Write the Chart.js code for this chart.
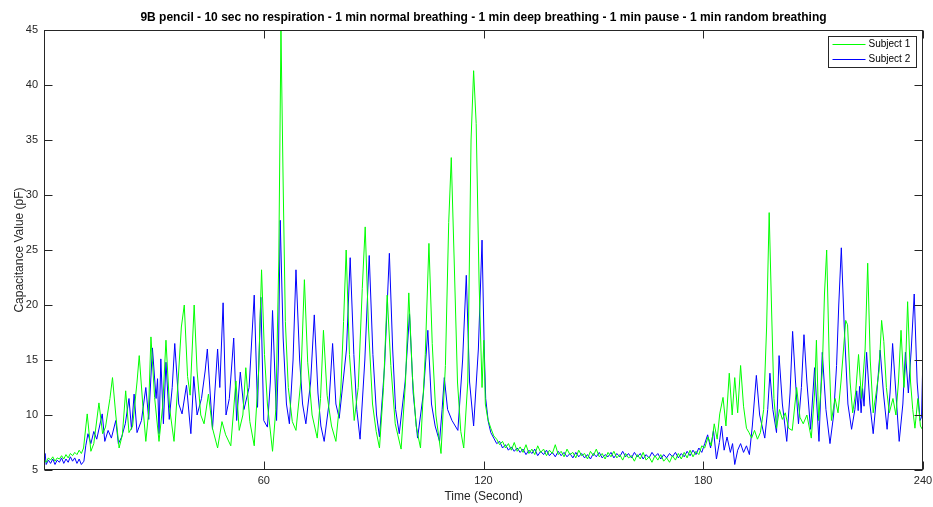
<!DOCTYPE html>
<html>
<head>
<meta charset="utf-8">
<title>9B pencil capacitance</title>
<script src="https://cdn.jsdelivr.net/npm/chart.js@4.4.1/dist/chart.umd.min.js"></script>
<style>
  html, body { margin: 0; padding: 0; background: #ffffff; }
  #chartBox { width: 933px; height: 507px; }
</style>
</head>
<body>
<div id="chartBox"><canvas id="capChart" width="933" height="507"></canvas></div>
<script>
// Chart texts
const chartTitle = '9B pencil - 10 sec no respiration - 1 min normal breathing - 1 min deep breathing - 1 min pause - 1 min random breathing';
const xAxisTitle = 'Time (Second)';
const yAxisTitle = 'Capacitance Value (pF)';
const seriesNames = ['Subject 1', 'Subject 2'];

// Axis ticks
const xTickValues = [60, 120, 180, 240];
const yTickValues = [5, 10, 15, 20, 25, 30, 35, 40, 45];

// Subject 1 readings: [time (s), capacitance (pF)]
const subject1 = [
  [0, 6.0], [0.6, 5.7], [1.2, 6.1], [1.8, 5.9], [2.4, 6.2], [3.0, 5.8], [3.6, 6.1], [4.2, 6.0], [4.8, 6.3], [5.4, 6.0],
  [6.0, 6.4], [6.6, 6.1], [7.2, 6.5], [7.8, 6.3], [8.4, 6.6], [9.0, 6.4], [9.6, 6.8], [10.2, 6.5], [10.8, 7.0],
  // normal breathing
  [11.8, 10.1], [12.8, 6.7], [13.6, 7.4], [15.0, 11.1], [16.0, 8.3], [16.8, 8.9], [18.0, 11.5], [18.7, 13.4], [19.6, 10.0],
  [20.5, 7.0], [21.4, 8.2], [22.3, 12.2], [23.2, 8.4], [24.2, 9.0], [25.4, 13.0], [26.0, 15.4], [27.0, 10.8], [27.8, 7.6],
  [28.5, 10.0], [29.2, 17.1], [30.2, 11.6], [31.4, 7.6], [32.4, 10.8], [33.3, 16.8], [34.3, 10.6], [35.5, 7.6], [36.6, 13.0],
  [37.5, 18.0], [38.3, 20.0], [39.2, 13.5], [39.9, 11.8], [41.0, 20.0], [41.8, 14.0], [42.8, 10.0], [43.7, 9.2], [44.9, 11.9],
  [46.0, 8.8], [47.4, 7.0], [48.6, 9.4], [49.6, 8.2], [51.0, 7.2], [52.4, 13.1], [53.3, 8.6], [54.3, 10.0], [55.1, 14.3],
  [56.2, 9.4], [57.4, 7.2], [58.6, 14.0], [59.4, 23.2], [60.2, 15.5], [61.0, 11.0], [62.4, 6.7], [63.3, 10.5],
  // deep breathing
  [64.1, 24.0], [64.7, 45.0], [65.3, 31.0], [65.9, 18.5], [66.7, 12.5], [67.8, 9.4], [68.8, 8.6], [70.1, 13.0], [71.1, 22.3],
  [72.0, 14.8], [73.2, 10.0], [74.6, 7.9], [75.5, 11.5], [76.3, 17.7], [77.3, 11.8], [78.5, 9.0], [79.7, 7.6], [81.0, 12.0],
  [81.8, 18.5], [82.5, 25.0], [83.4, 15.5], [84.7, 9.5], [85.8, 12.5], [86.9, 21.5], [87.7, 27.1], [88.6, 18.0], [89.7, 11.0],
  [90.7, 8.5], [91.6, 7.0], [92.7, 12.5], [93.7, 20.9], [94.7, 14.5], [95.9, 9.2], [97.5, 6.9], [98.7, 13.0], [99.6, 21.1],
  [100.6, 13.5], [101.6, 9.0], [102.8, 7.0], [104.1, 15.5], [105.1, 25.6], [106.0, 16.5], [107.0, 10.0], [108.4, 6.5],
  [109.6, 14.5], [110.5, 27.5], [111.2, 33.4], [112.0, 24.0], [112.9, 13.0], [113.8, 8.5], [114.6, 7.0], [115.7, 13.0],
  [116.6, 35.0], [117.3, 41.3], [118.0, 36.5], [118.8, 22.0], [119.6, 12.5], [120.1, 16.8], [120.5, 11.0], [121.2, 9.6],
  // pause
  [122.0, 8.8], [122.8, 8.1], [123.6, 7.8], [124.4, 7.3], [125.2, 7.6], [126.0, 7.0], [126.8, 7.4], [127.6, 6.8], [128.4, 7.5],
  [129.2, 6.7], [130.0, 7.1], [130.8, 6.6], [131.6, 7.3], [132.4, 6.5], [133.2, 6.9], [134.0, 6.4], [134.8, 7.2], [135.6, 6.6],
  [136.4, 6.9], [137.2, 6.3], [138.0, 6.8], [138.8, 6.5], [139.6, 7.3], [140.4, 6.4], [141.2, 6.7], [142.0, 6.2], [142.8, 6.9],
  [143.6, 6.4], [144.4, 6.6], [145.2, 6.1], [146.0, 6.8], [146.8, 6.3], [147.6, 6.5], [148.4, 6.0], [149.2, 6.7], [150.0, 6.3],
  [150.8, 6.9], [151.6, 6.2], [152.4, 6.5], [153.2, 6.0], [154.0, 6.6], [154.8, 6.2], [155.6, 6.7], [156.4, 6.1], [157.2, 6.4],
  [158.0, 5.9], [158.8, 6.5], [159.6, 6.1], [160.4, 6.3], [161.2, 5.8], [162.0, 6.4], [162.8, 6.0], [163.6, 6.6], [164.4, 5.9],
  [165.2, 6.2], [166.0, 5.7], [166.8, 6.3], [167.6, 5.9], [168.4, 6.4], [169.2, 5.8], [170.0, 6.1], [170.8, 5.7], [171.6, 6.3],
  [172.4, 5.9], [173.2, 6.5], [174.0, 6.0], [174.8, 6.6], [175.6, 6.1], [176.4, 6.8], [177.2, 6.2], [178.0, 6.7], [178.8, 6.4],
  [179.6, 7.2],
  // random breathing
  [180.4, 7.0], [181.3, 8.0], [182.2, 7.2], [183.0, 9.2], [183.8, 7.8], [184.5, 10.1], [185.4, 11.6], [186.2, 9.0], [187.1, 13.8],
  [187.9, 10.0], [188.6, 13.4], [189.4, 10.2], [190.2, 14.5], [191.0, 10.8], [191.8, 8.8], [192.5, 8.4], [193.2, 7.9], [194.0, 8.6],
  [194.8, 7.8], [195.6, 8.4], [196.5, 10.5], [197.3, 18.0], [198.0, 28.4], [198.7, 19.0], [199.3, 11.5], [200.0, 8.8],
  [200.8, 10.5], [201.6, 9.6], [202.4, 10.2], [203.3, 8.8], [204.3, 8.6], [205.5, 12.5], [206.4, 9.8], [207.3, 9.2], [208.3, 10.0],
  [209.5, 7.9], [210.4, 12.0], [210.9, 16.8], [211.5, 9.5], [212.5, 14.0], [213.1, 21.0], [213.7, 25.0], [214.4, 15.0],
  [215.0, 9.5], [216.0, 11.5], [216.8, 10.2], [217.6, 13.0], [218.3, 16.0], [218.9, 18.6], [219.4, 18.2], [220.1, 13.0],
  [220.8, 10.2], [221.6, 12.0], [222.4, 15.5], [223.2, 11.5], [224.2, 16.0], [224.9, 23.8], [225.6, 15.0], [226.4, 10.2],
  [227.2, 12.0], [228.0, 14.0], [228.7, 18.6], [229.3, 16.7], [230.0, 12.5], [230.8, 10.2], [231.8, 11.5], [232.6, 10.0],
  [233.3, 13.0], [234.0, 17.7], [234.8, 12.5], [235.3, 15.0], [235.8, 20.3], [236.6, 13.0], [237.2, 10.5], [237.8, 8.8],
  [238.6, 11.5], [239.3, 9.0], [240.0, 8.6]
];

// Subject 2 readings: [time (s), capacitance (pF)]
const subject2 = [
  [0, 5.6], [0.3, 6.5], [0.6, 5.5], [1.2, 5.9], [1.8, 5.6], [2.4, 6.0], [3.0, 5.5], [3.6, 5.9], [4.2, 5.7], [4.8, 6.1],
  [5.4, 5.6], [6.0, 6.0], [6.6, 5.7], [7.2, 6.2], [7.8, 5.8], [8.4, 6.1], [9.0, 5.6], [9.6, 6.0], [10.2, 5.5], [10.9, 5.8],
  // normal breathing
  [11.4, 7.2], [12.0, 8.3], [12.8, 7.4], [13.6, 8.5], [14.4, 7.8], [15.9, 10.1], [16.6, 7.6], [17.5, 8.6], [18.4, 7.9],
  [19.6, 9.5], [20.3, 7.4], [21.2, 8.0], [22.2, 9.2], [23.2, 11.5], [23.9, 8.7], [24.6, 11.9], [25.4, 8.4], [26.6, 9.5],
  [27.8, 12.5], [28.6, 9.6], [29.6, 16.1], [30.6, 11.5], [31.0, 13.3], [31.4, 8.3], [31.9, 15.1], [32.6, 9.2], [33.3, 14.8],
  [34.2, 9.6], [35.0, 12.5], [35.7, 16.5], [36.8, 11.0], [37.7, 10.1], [38.9, 12.7], [40.1, 8.3], [40.9, 13.5], [41.8, 10.0],
  [43.0, 11.5], [44.0, 14.0], [44.6, 16.0], [46.0, 8.7], [47.4, 16.0], [48.0, 12.5], [48.9, 20.2], [49.7, 10.0], [50.6, 11.5],
  [51.8, 17.0], [52.6, 9.5], [53.6, 13.9], [54.6, 10.5], [56.0, 12.5], [57.4, 20.9], [58.3, 10.7], [59.2, 20.7], [60.0, 9.5],
  // deep breathing
  [61.0, 8.9], [61.8, 13.0], [62.4, 19.5], [63.5, 9.5], [64.0, 15.0], [64.5, 27.7], [65.3, 17.0], [66.2, 11.0], [67.0, 9.2],
  [68.0, 15.0], [68.8, 23.2], [69.8, 15.0], [70.6, 11.0], [71.5, 9.2], [72.8, 13.0], [73.8, 19.1], [74.8, 12.0], [75.6, 9.0],
  [76.5, 7.6], [77.8, 11.0], [78.8, 16.5], [79.7, 11.0], [80.6, 9.7], [82.6, 16.0], [83.6, 24.3], [84.6, 15.5], [85.4, 10.5],
  [86.3, 7.8], [87.6, 15.0], [88.8, 24.5], [89.8, 15.5], [90.8, 10.0], [91.6, 8.0], [93.0, 14.5], [94.3, 24.7], [95.2, 16.0],
  [96.0, 10.5], [97.0, 8.3], [98.6, 13.0], [99.8, 19.2], [100.8, 12.0], [102.0, 7.9], [103.6, 12.0], [104.8, 17.7],
  [105.8, 11.0], [106.8, 9.0], [108.0, 7.6], [108.7, 10.5], [109.3, 13.4], [110.2, 10.5], [111.4, 9.5], [113.0, 8.6],
  [114.3, 15.0], [115.3, 22.7], [116.2, 13.0], [117.3, 9.0], [118.6, 16.0], [119.6, 25.9], [120.2, 16.0], [120.6, 11.5],
  // pause
  [121.3, 9.4], [122.0, 8.4], [122.8, 7.9], [123.6, 7.4], [124.4, 7.6], [125.2, 7.0], [126.0, 7.3], [126.8, 6.8], [127.6, 7.1],
  [128.4, 6.7], [129.2, 7.0], [130.0, 6.6], [130.8, 6.9], [131.6, 6.4], [132.4, 6.8], [133.2, 6.5], [134.0, 6.9], [134.8, 6.3],
  [135.6, 6.7], [136.4, 6.4], [137.2, 6.8], [138.0, 6.3], [138.8, 6.6], [139.6, 6.2], [140.4, 6.7], [141.2, 6.3], [142.0, 6.6],
  [142.8, 6.2], [143.6, 6.5], [144.4, 6.1], [145.2, 6.6], [146.0, 6.2], [146.8, 6.5], [147.6, 6.1], [148.4, 6.4], [149.2, 6.0],
  [150.0, 6.5], [150.8, 6.2], [151.6, 6.6], [152.4, 6.1], [153.2, 6.4], [154.0, 6.2], [154.8, 6.6], [155.6, 6.1], [156.4, 6.5],
  [157.2, 6.2], [158.0, 6.7], [158.8, 6.2], [159.6, 6.5], [160.4, 6.1], [161.2, 6.6], [162.0, 6.2], [162.8, 6.5], [163.6, 6.0],
  [164.4, 6.4], [165.2, 6.1], [166.0, 6.6], [166.8, 6.2], [167.6, 6.5], [168.4, 6.0], [169.2, 6.4], [170.0, 6.1], [170.8, 6.5],
  [171.6, 6.2], [172.4, 6.6], [173.2, 6.1], [174.0, 6.5], [174.8, 6.2], [175.6, 6.7], [176.4, 6.3], [177.2, 6.8], [178.0, 6.4],
  [178.8, 7.0], [179.6, 6.6],
  // random breathing
  [180.4, 7.4], [181.2, 8.2], [182.0, 7.0], [182.8, 8.6], [183.6, 6.0], [184.4, 7.5], [185.0, 9.0], [185.7, 6.8], [186.5, 8.0],
  [187.4, 6.6], [188.0, 7.4], [188.6, 5.5], [189.4, 6.8], [190.2, 7.4], [191.0, 6.6], [191.8, 7.2], [192.6, 6.4], [193.4, 9.0],
  [194.5, 13.6], [195.4, 10.0], [196.8, 7.9], [197.6, 10.5], [198.2, 13.8], [199.0, 10.5], [200.0, 8.4], [200.7, 15.4],
  [201.6, 11.0], [202.8, 7.6], [203.7, 12.0], [204.4, 17.6], [205.2, 13.0], [206.0, 9.2], [206.8, 12.5], [207.5, 17.3],
  [208.3, 13.0], [209.3, 8.7], [210.4, 14.3], [211.6, 7.6], [212.5, 15.7], [213.5, 10.5], [214.6, 7.4], [215.6, 10.0],
  [216.4, 14.5], [217.0, 20.0], [217.7, 25.2], [218.5, 18.0], [219.5, 11.0], [220.5, 8.7], [221.4, 10.5], [221.9, 12.2],
  [222.3, 10.4], [222.7, 12.6], [223.1, 10.2], [223.5, 12.4], [223.9, 10.8], [224.6, 15.7], [225.5, 11.0], [226.4, 8.3],
  [227.4, 12.0], [228.3, 15.9], [229.2, 12.0], [230.2, 8.7], [231.0, 12.0], [231.7, 16.5], [232.6, 12.0], [233.5, 7.6],
  [234.5, 11.0], [235.2, 15.7], [236.0, 12.0], [236.8, 16.0], [237.6, 21.0], [238.4, 13.0], [239.2, 9.5], [239.6, 9.8],
  [240.0, 15.7]
];

const seriesColors = ['#00ff00', '#0000ff'];
const axisColor = '#262626';
const fontFamily = '"Liberation Sans", Arial, Helvetica, sans-serif';

// turn [t, v] pairs into chart points
function toPoints(pairs) {
  return pairs.map(p => ({ x: p[0], y: p[1] }));
}

// MATLAB style box with inward ticks on all four sides + legend in the corner
const matlabFrame = {
  id: 'matlabFrame',
  afterDatasetsDraw(chart) {
    const ctx = chart.ctx;
    const area = chart.chartArea;
    const xs = chart.scales.x;
    const ys = chart.scales.y;
    const tickLen = 8;

    ctx.save();
    ctx.strokeStyle = axisColor;
    ctx.lineWidth = 1;

    // box
    const l = Math.round(area.left) + 0.5;
    const r = Math.round(area.right) - 0.5;
    const t = Math.round(area.top) + 0.5;
    const b = Math.round(area.bottom) - 0.5;
    ctx.strokeRect(l, t, r - l, b - t);

    ctx.beginPath();
    xTickValues.forEach(v => {
      const px = Math.round(xs.getPixelForValue(v)) + 0.5;
      ctx.moveTo(px, b); ctx.lineTo(px, b - tickLen);
      ctx.moveTo(px, t); ctx.lineTo(px, t + tickLen);
    });
    yTickValues.forEach(v => {
      const py = Math.round(ys.getPixelForValue(v)) + 0.5;
      ctx.moveTo(l, py); ctx.lineTo(l + tickLen, py);
      ctx.moveTo(r, py); ctx.lineTo(r - tickLen, py);
    });
    ctx.stroke();

    // legend
    const boxW = 88, boxH = 31;
    const bx = Math.round(area.right) - 7 - boxW + 0.5;
    const by = Math.round(area.top) + 6 + 0.5;
    ctx.fillStyle = '#ffffff';
    ctx.fillRect(bx, by, boxW, boxH);
    ctx.strokeStyle = axisColor;
    ctx.strokeRect(bx, by, boxW, boxH);

    ctx.font = '10px ' + fontFamily;
    ctx.textBaseline = 'middle';
    ctx.textAlign = 'left';
    chart.data.datasets.forEach((ds, i) => {
      const ly = by + 8 + i * 15;
      ctx.strokeStyle = ds.borderColor;
      ctx.beginPath();
      ctx.moveTo(bx + 4, ly);
      ctx.lineTo(bx + 37, ly);
      ctx.stroke();
      ctx.fillStyle = '#000000';
      ctx.fillText(ds.label, bx + 40, ly);
    });
    ctx.restore();
  }
};

const ctx = document.getElementById('capChart').getContext('2d');
const capChart = new Chart(ctx, {
  type: 'line',
  data: {
    datasets: [
      {
        label: seriesNames[0],
        data: toPoints(subject1),
        borderColor: seriesColors[0],
        borderWidth: 1,
        pointRadius: 0,
        tension: 0,
        fill: false
      },
      {
        label: seriesNames[1],
        data: toPoints(subject2),
        borderColor: seriesColors[1],
        borderWidth: 1,
        pointRadius: 0,
        tension: 0,
        fill: false
      }
    ]
  },
  options: {
    responsive: false,
    devicePixelRatio: 1,
    animation: false,
    layout: { padding: { left: 0, right: 10, top: 0, bottom: 0 } },
    plugins: {
      legend: { display: false },
      tooltip: { enabled: false },
      title: {
        display: true,
        text: chartTitle,
        fullSize: false,
        color: '#000000',
        font: { family: fontFamily, size: 12, weight: 'bold' },
        padding: { top: 10, bottom: 5.6 }
      }
    },
    scales: {
      x: {
        type: 'linear',
        min: 0,
        max: 240,
        afterBuildTicks: scale => { scale.ticks = xTickValues.map(v => ({ value: v })); },
        afterFit: scale => {
          scale.height = 37;
          // keep the "240" label from pushing the plot edge inwards
          scale.paddingLeft = 0;
          scale.paddingRight = 0;
        },
        grid: { display: false, drawTicks: false },
        border: { display: false },
        ticks: {
          color: axisColor,
          font: { family: fontFamily, size: 11 },
          padding: 4,
          maxRotation: 0
        },
        title: {
          display: true,
          text: xAxisTitle,
          color: axisColor,
          font: { family: fontFamily, size: 12 },
          padding: { top: 0, bottom: 3 }
        }
      },
      y: {
        type: 'linear',
        min: 5,
        max: 45,
        afterBuildTicks: scale => { scale.ticks = yTickValues.map(v => ({ value: v })); },
        afterFit: scale => { scale.width = 44; },
        grid: { display: false, drawTicks: false },
        border: { display: false },
        ticks: {
          color: axisColor,
          font: { family: fontFamily, size: 11 },
          padding: 6
        },
        title: {
          display: true,
          text: yAxisTitle,
          color: axisColor,
          font: { family: fontFamily, size: 12 },
          padding: { top: 12, bottom: 0 }
        }
      }
    }
  },
  plugins: [matlabFrame]
});
</script>
</body>
</html>
